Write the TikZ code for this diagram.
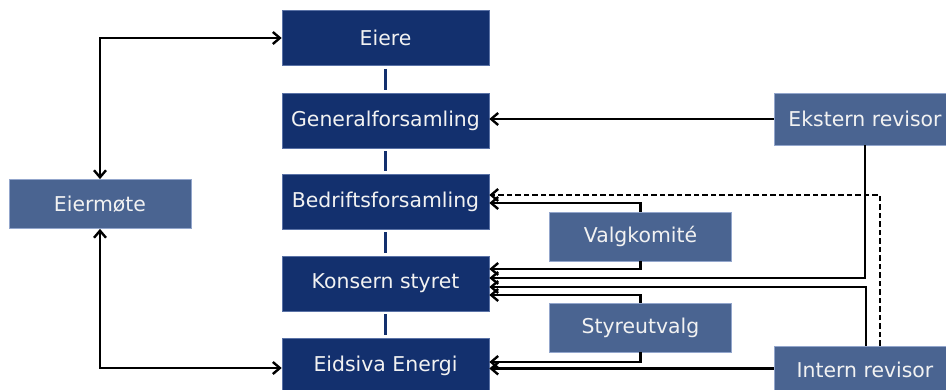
\documentclass[tikz,border=0pt]{standalone}
\usepackage{fontspec}
\setmainfont{DejaVu Sans}
\usetikzlibrary{arrows.meta,calc}
\definecolor{navy}{HTML}{13306E}
\definecolor{navyedge}{HTML}{5A72A6}
\definecolor{lightb}{HTML}{4A6491}
\definecolor{lightedge}{HTML}{93A6CC}
\definecolor{txt}{HTML}{F2F2F2}
\begin{document}
\begin{tikzpicture}[x=1pt,y=-1pt,
  mainbox/.style={rectangle, fill=navy, draw=navyedge, line width=0.6pt,
    minimum width=207pt, minimum height=55pt, inner sep=0pt,
    text=txt, font=\fontsize{20.4}{24}\selectfont},
  sidebox/.style={rectangle, fill=lightb, draw=lightedge, line width=0.8pt,
    minimum width=182pt, minimum height=49pt, inner sep=0pt,
    text=txt, font=\fontsize{20.4}{24}\selectfont},
  mybarb/.tip={Straight Barb[length=7pt,width=12pt,line width=2.4pt]},
  arr/.style={line width=2.6pt, -mybarb},
  arrboth/.style={line width=2.6pt, mybarb-mybarb},
  link/.style={draw=navy, line width=2.4pt},
  dashline/.style={dash pattern=on 5.5pt off 3pt}
]
\clip (0,0) rectangle (946,389);
\fill[white] (0,0) rectangle (946,389);

% main column
\node[mainbox] (eiere) at (385.5,38)    {Eiere};
\node[mainbox] (gf)    at (385.5,120.5) {Generalforsamling};
\node[mainbox] (bf)    at (385.5,201.5) {Bedriftsforsamling};
\node[mainbox] (ks)    at (385.5,283.5) {Konsern styret};
\node[mainbox] (ee)    at (385.5,366)   {Eidsiva Energi};

% side boxes
\node[sidebox] (em) at (100,204)   {Eiermøte};
\node[sidebox, minimum height=52pt] (ek) at (865,119) {Ekstern revisor};
\node[sidebox] (vk) at (640.5,236.5) {Valgkomité};
\node[sidebox] (su) at (640.5,327.5) {Styreutvalg};
\node[sidebox, minimum height=48pt] (it) at (865,370) {Intern revisor};

% links in the main column
\draw[link] ($(eiere.south)+(0,3)$) -- ($(gf.north)+(0,-3)$);
\draw[link] ($(gf.south)+(0,3)$) -- ($(bf.north)+(0,-3)$);
\draw[link] ($(bf.south)+(0,3)$) -- ($(ks.north)+(0,-3)$);
\draw[link] ($(ks.south)+(0,3)$) -- ($(ee.north)+(0,-3)$);

% Eiermøte
\draw[arrboth] (em.north) |- (eiere.west);
\draw[arrboth] (em.south) |- ($(ee.west)+(0,2)$);

% revisors
\draw[arr] (ek.west) -- (ek.west -| gf.east);
\draw[arr] (ek.south) |- ($(ks.east)+(0,-5.5)$);
\draw[arr] ($(it.north)+(1,0)$) |- ($(ks.east)+(0,3.5)$);
\draw[arr, dashline] ($(it.north)+(15,0)$) |- ($(bf.east)+(0,-6.5)$);
\draw[arr] ($(it.west)+(0,-1.5)$) -- ($(ee.east)+(0,2.5)$);

% committees
\draw[arr] (vk.north) |- ($(bf.east)+(0,1.5)$);
\draw[arr] (vk.south) |- ($(ks.east)+(0,-14.5)$);
\draw[arr] (su.north) |- ($(ks.east)+(0,11.5)$);
\draw[arr] (su.south) |- ($(ee.east)+(0,-4)$);
\end{tikzpicture}
\end{document}
